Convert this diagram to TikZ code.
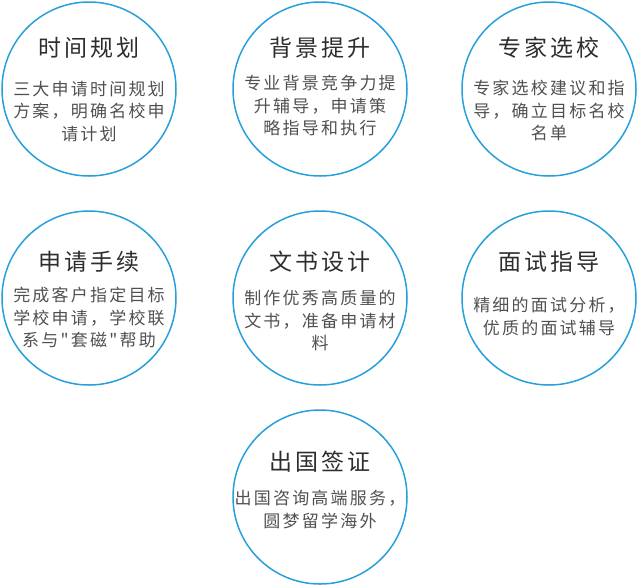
\documentclass[tikz,border=0pt]{standalone}
\usepackage{fontspec}
\usepackage{xcolor}
\usepackage{tikz}
\usetikzlibrary{calc,positioning}
\newfontfamily\cjk[LetterSpace=13]{Noto Sans CJK SC}
\newfontfamily\cjkhead[LetterSpace=12]{Noto Sans CJK SC}
\definecolor{ringblue}{RGB}{38,160,220}
\definecolor{headgray}{RGB}{45,45,45}
\definecolor{bodygray}{RGB}{80,80,80}

\begin{document}
\begin{tikzpicture}[x=1pt,y=1pt,
  ring/.style={circle,draw=ringblue,line width=1.5pt,minimum size=174pt,inner sep=0pt},
  head/.style={text=headgray,font=\cjkhead\fontsize{23}{26}\selectfont,inner sep=0pt},
  body/.style={text=bodygray,font=\cjk\fontsize{17}{22.5}\selectfont,align=center,inner sep=0pt,anchor=north}]
  \useasboundingbox (0,0) rectangle (639,-587);

  % first row
  \node[ring] (plan) at (89,-89) {};
  \node[head] (planT) at ([yshift=41pt]plan.center) {时间规划};
  \node[body] (planB) at ([yshift=8pt]plan.center) {三大申请时间规划\\方案，明确名校申\\请计划};

  \node[ring] (boost) at (320,-89) {};
  \node[head] (boostT) at ([yshift=41pt]boost.center) {背景提升};
  \node[body] (boostB) at ([yshift=14pt]boost.center) {专业背景竞争力提\\升辅导，申请策\\略指导和执行};

  \node[ring] (pick) at (549,-89) {};
  \node[head] (pickT) at ([yshift=41pt]pick.center) {专家选校};
  \node[body] (pickB) at ([yshift=9pt]pick.center) {专家选校建议和指\\导，确立目标名校\\名单};

  % second row
  \node[ring] (apply) at (89,-298) {};
  \node[head] (applyT) at ([yshift=36pt]apply.center) {申请手续};
  \node[body] (applyB) at ([yshift=11pt]apply.center) {完成客户指定目标\\学校申请，学校联\\系与"套磁"帮助};

  \node[ring] (essay) at (320,-298) {};
  \node[head] (essayT) at ([yshift=36pt]essay.center) {文书设计};
  \node[body] (essayB) at ([yshift=8pt]essay.center) {制作优秀高质量的\\文书，准备申请材\\料};

  \node[ring] (talk) at (549,-298) {};
  \node[head] (talkT) at ([yshift=36pt]talk.center) {面试指导};
  \node[body] (talkB) at ([yshift=1pt]talk.center) {精细的面试分析，\\优质的面试辅导};

  % third row
  \node[ring] (visa) at (320,-497) {};
  \node[head] (visaT) at ([yshift=35pt]visa.center) {出国签证};
  \node[body] (visaB) at ([yshift=7pt]visa.center) {出国咨询高端服务，\\圆梦留学海外};
\end{tikzpicture}
\end{document}
